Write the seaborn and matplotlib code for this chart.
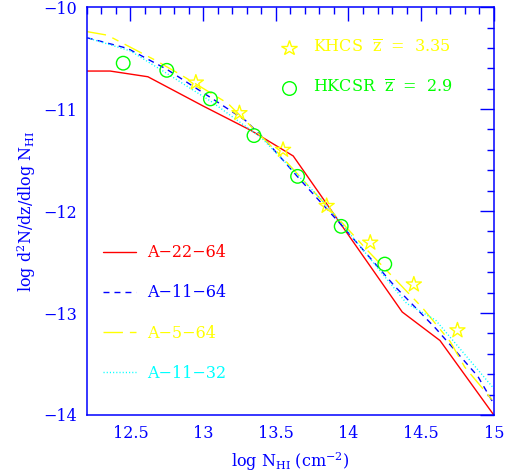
import numpy as np
import matplotlib
matplotlib.use("Agg")
import matplotlib.pyplot as plt
import seaborn as sns
from matplotlib.lines import Line2D
from matplotlib.ticker import MultipleLocator, FuncFormatter

sns.set_style("white")
plt.rcParams['font.family'] = ['DejaVu Serif']
plt.rcParams['mathtext.fontset'] = 'dejavuserif'
plt.rcParams['lines.scale_dashes'] = False

# simulation curves (log N_HI, log d2N/dz/dlogN)
x_a22_64 = [12.2, 12.36, 12.62, 13.0, 13.33, 13.62, 14.37, 14.63, 15.0]
y_a22_64 = [-10.627, -10.627, -10.683, -10.97, -11.21, -11.46, -12.99, -13.27, -14.0]

x_a11_64 = [12.2, 12.48, 12.75, 13.06, 13.29, 13.42, 13.66, 13.96, 14.32, 14.6, 14.89, 15.0]
y_a11_64 = [-10.30, -10.405, -10.61, -10.895, -11.11, -11.29, -11.68, -12.15, -12.74, -13.15, -13.62, -13.89]

x_a5_64 = [12.2, 12.34, 12.67, 12.85, 13.17, 13.53, 14.12, 14.51, 14.70, 14.80, 15.0]
y_a5_64 = [-10.24, -10.275, -10.52, -10.667, -10.944, -11.45, -12.37, -12.95, -13.28, -13.53, -13.87]

x_a11_32 = [12.2, 12.5, 12.75, 13.06, 13.4, 13.83, 14.4, 14.6, 15.0]
y_a11_32 = [-10.30, -10.43, -10.65, -10.93, -11.28, -11.91, -12.905, -13.07, -13.74]

# observations
x_khcs = [12.95, 13.25, 13.55, 13.85, 14.15, 14.45, 14.75]
y_khcs = [-10.74, -11.04, -11.40, -11.95, -12.31, -12.72, -13.17]

x_hkcsr = [12.45, 12.75, 13.05, 13.35, 13.65, 13.95, 14.25]
y_hkcsr = [-10.55, -10.62, -10.90, -11.26, -11.66, -12.15, -12.52]

models = [
    ('A\u221222\u221264', x_a22_64, y_a22_64, '#ff0000', '-'),
    ('A\u221211\u221264', x_a11_64, y_a11_64, '#0000ff', (0, (4.3, 3.6))),
    ('A\u22125\u221264', x_a5_64, y_a5_64, '#ffff00', (0, (14, 5, 5, 5))),
    ('A\u221211\u221232', x_a11_32, y_a11_32, '#00ffff', (0, (0.8, 1.5))),
]

FS = 11.5

fig = plt.figure(figsize=(5.08, 4.74), dpi=100)
ax = fig.add_axes([0.171, 0.1245, 0.801, 0.8605])

handles = []
for name, xs, ys, col, ls in models:
    sns.lineplot(x=xs, y=ys, ax=ax, color=col, linestyle=ls, lw=1.0, sort=False,
                 estimator=None)
    handles.append(Line2D([], [], color=col, linestyle=ls, lw=1.0, label=name))

sns.scatterplot(x=x_khcs, y=y_khcs, ax=ax, marker='*', s=130, facecolor='none',
                edgecolor='#ffff00', linewidth=1.0, zorder=5)
sns.scatterplot(x=x_hkcsr, y=y_hkcsr, ax=ax, marker='o', s=95, facecolor='none',
                edgecolor='#00ff00', linewidth=1.0, zorder=5)

ax.set_xlim(12.2, 15)
ax.set_ylim(-14, -10)
ax.xaxis.set_major_locator(MultipleLocator(0.5))
ax.xaxis.set_minor_locator(MultipleLocator(0.1))
ax.yaxis.set_major_locator(MultipleLocator(1))
ax.yaxis.set_minor_locator(MultipleLocator(0.2))
ax.xaxis.set_major_formatter(FuncFormatter(lambda v, p: f'{v:g}'))
ax.yaxis.set_major_formatter(FuncFormatter(lambda v, p: f'{v:g}'.replace('-', '\u2212')))

ax.tick_params(which='both', direction='in', top=True, right=True, colors='blue',
               labelsize=FS, pad=7)
ax.tick_params(which='major', length=10, width=1.0)
ax.tick_params(which='minor', length=5, width=1.0)
for sp in ax.spines.values():
    sp.set_color('blue')
    sp.set_linewidth(1.1)

ax.set_xlabel(r'log N$_{\rm HI}$ (cm$^{-2}$)', color='blue', fontsize=FS, va='top')
ax.set_ylabel(r'log d$^2$N/dz/dlog N$_{\rm HI}$', color='blue', fontsize=FS)
ax.xaxis.set_label_coords(0.5, -0.086)
ax.yaxis.set_label_coords(-0.119, 0.5)

leg1 = ax.legend(handles=handles, loc='center left', bbox_to_anchor=(0.039, 0.25),
                 frameon=False, fontsize=FS, labelcolor='linecolor', handlelength=2.1,
                 handletextpad=0.65, labelspacing=1.45, borderpad=0, borderaxespad=0)
ax.add_artist(leg1)

obs_handles = [
    Line2D([], [], marker='*', ms=11.5, mfc='none', mec='#ffff00', mew=1.0, ls='none',
           color='#ffff00', label=r'KHCS  $\overline{\mathrm{z}}$  =  3.35'),
    Line2D([], [], marker='o', ms=9.8, mfc='none', mec='#00ff00', mew=1.0, ls='none',
           color='#00ff00', label=r'HKCSR  $\overline{\mathrm{z}}$  =  2.9'),
]
ax.legend(handles=obs_handles, loc='center left', bbox_to_anchor=(0.478, 0.849),
          frameon=False, fontsize=FS, labelcolor=['#ffff00', '#00ff00'],
          handlelength=1.0, handletextpad=1.0, labelspacing=1.45, borderpad=0,
          borderaxespad=0, numpoints=1)

fig.savefig('out.png', dpi=100)
